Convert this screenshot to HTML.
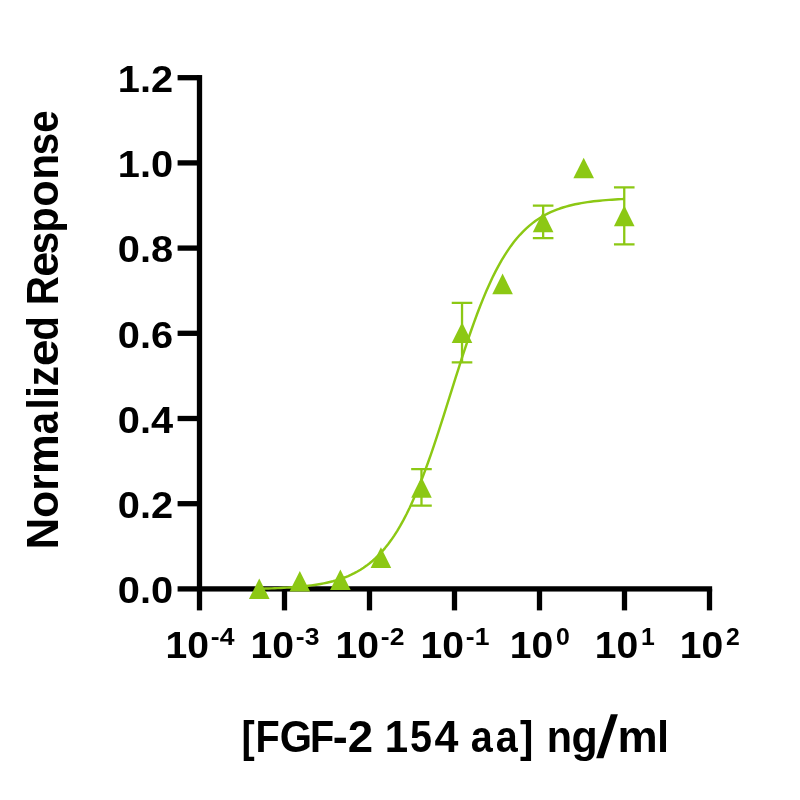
<!DOCTYPE html>
<html><head><meta charset="utf-8"><title>FGF-2 154 aa dose response</title>
<style>
html,body{margin:0;padding:0;background:#fff;}
svg{display:block;will-change:transform;}
text{font-family:"Liberation Sans",sans-serif;font-weight:bold;fill:#000;}
</style></head>
<body>
<svg width="800" height="800" viewBox="0 0 800 800">
<rect width="800" height="800" fill="#fff"/>
<g fill="#000">
<rect x="196.85" y="75.05" width="5.3" height="535.35"/>
<rect x="177.60" y="586.25" width="534.55" height="5.3"/>
<rect x="177.60" y="501.05" width="21.90" height="5.3"/>
<rect x="177.60" y="415.85" width="21.90" height="5.3"/>
<rect x="177.60" y="330.65" width="21.90" height="5.3"/>
<rect x="177.60" y="245.45" width="21.90" height="5.3"/>
<rect x="177.60" y="160.25" width="21.90" height="5.3"/>
<rect x="177.60" y="75.05" width="21.90" height="5.3"/>
<rect x="281.85" y="588.90" width="5.3" height="21.50"/>
<rect x="366.85" y="588.90" width="5.3" height="21.50"/>
<rect x="451.85" y="588.90" width="5.3" height="21.50"/>
<rect x="536.85" y="588.90" width="5.3" height="21.50"/>
<rect x="621.85" y="588.90" width="5.3" height="21.50"/>
<rect x="706.85" y="588.90" width="5.3" height="21.50"/>
</g>
<g font-size="37.3" text-anchor="end">
<text x="173.10" y="603.20" textLength="55.3" lengthAdjust="spacingAndGlyphs">0.0</text>
<text x="173.10" y="518.00" textLength="55.3" lengthAdjust="spacingAndGlyphs">0.2</text>
<text x="173.10" y="432.80" textLength="55.3" lengthAdjust="spacingAndGlyphs">0.4</text>
<text x="173.10" y="347.60" textLength="55.3" lengthAdjust="spacingAndGlyphs">0.6</text>
<text x="173.10" y="262.40" textLength="55.3" lengthAdjust="spacingAndGlyphs">0.8</text>
<text x="173.10" y="177.20" textLength="55.3" lengthAdjust="spacingAndGlyphs">1.0</text>
<text x="173.10" y="92.00" textLength="55.3" lengthAdjust="spacingAndGlyphs">1.2</text>
</g>
<g>
<text x="165.60" y="658.20" font-size="37.3" textLength="43.5" lengthAdjust="spacingAndGlyphs">10</text><text x="210.80" y="645.00" font-size="24.5" textLength="23.6" lengthAdjust="spacingAndGlyphs">-4</text>
<text x="250.60" y="658.20" font-size="37.3" textLength="43.5" lengthAdjust="spacingAndGlyphs">10</text><text x="295.80" y="645.00" font-size="24.5" textLength="23.6" lengthAdjust="spacingAndGlyphs">-3</text>
<text x="335.60" y="658.20" font-size="37.3" textLength="43.5" lengthAdjust="spacingAndGlyphs">10</text><text x="380.80" y="645.00" font-size="24.5" textLength="23.6" lengthAdjust="spacingAndGlyphs">-2</text>
<text x="420.60" y="658.20" font-size="37.3" textLength="43.5" lengthAdjust="spacingAndGlyphs">10</text><text x="465.80" y="645.00" font-size="24.5" textLength="23.6" lengthAdjust="spacingAndGlyphs">-1</text>
<text x="509.80" y="658.20" font-size="37.3" textLength="43.5" lengthAdjust="spacingAndGlyphs">10</text><text x="556.00" y="645.00" font-size="24.5" textLength="13.8" lengthAdjust="spacingAndGlyphs">0</text>
<text x="594.80" y="658.20" font-size="37.3" textLength="43.5" lengthAdjust="spacingAndGlyphs">10</text><text x="641.00" y="645.00" font-size="24.5" textLength="13.8" lengthAdjust="spacingAndGlyphs">1</text>
<text x="679.80" y="658.20" font-size="37.3" textLength="43.5" lengthAdjust="spacingAndGlyphs">10</text><text x="726.00" y="645.00" font-size="24.5" textLength="13.8" lengthAdjust="spacingAndGlyphs">2</text>
</g>
<text transform="translate(58.40,0) rotate(-90)" font-size="44.8" y="0"><tspan x="-549.6" textLength="31.6" lengthAdjust="spacingAndGlyphs">N</tspan><tspan x="-518.0" textLength="27.3" lengthAdjust="spacingAndGlyphs">o</tspan><tspan x="-490.8" textLength="16.4" lengthAdjust="spacingAndGlyphs">r</tspan><tspan x="-473.9" textLength="39.7" lengthAdjust="spacingAndGlyphs">m</tspan><tspan x="-434.5" textLength="22.4" lengthAdjust="spacingAndGlyphs">a</tspan><tspan x="-409.6" textLength="11.2" lengthAdjust="spacingAndGlyphs">l</tspan><tspan x="-397.9" textLength="12.1" lengthAdjust="spacingAndGlyphs">i</tspan><tspan x="-386.2" textLength="20.2" lengthAdjust="spacingAndGlyphs">z</tspan><tspan x="-366.3" textLength="26.9" lengthAdjust="spacingAndGlyphs">e</tspan><tspan x="-340.8" textLength="24.6" lengthAdjust="spacingAndGlyphs">d</tspan> <tspan x="-305.3" textLength="29.1" lengthAdjust="spacingAndGlyphs">R</tspan><tspan x="-276.8" textLength="25.0" lengthAdjust="spacingAndGlyphs">e</tspan><tspan x="-254.2" textLength="22.4" lengthAdjust="spacingAndGlyphs">s</tspan><tspan x="-232.7" textLength="25.5" lengthAdjust="spacingAndGlyphs">p</tspan><tspan x="-206.7" textLength="26.4" lengthAdjust="spacingAndGlyphs">o</tspan><tspan x="-179.8" textLength="25.9" lengthAdjust="spacingAndGlyphs">n</tspan><tspan x="-155.3" textLength="22.4" lengthAdjust="spacingAndGlyphs">s</tspan><tspan x="-132.8" textLength="22.4" lengthAdjust="spacingAndGlyphs">e</tspan></text>
<text font-size="44.0" y="752.00"><tspan x="241.5" textLength="13.2" lengthAdjust="spacingAndGlyphs">[</tspan><tspan x="255.6" textLength="24.2" lengthAdjust="spacingAndGlyphs">F</tspan><tspan x="279.7" textLength="32.3" lengthAdjust="spacingAndGlyphs">G</tspan><tspan x="310.1" textLength="24.2" lengthAdjust="spacingAndGlyphs">F</tspan><tspan x="332.8" textLength="15.0" lengthAdjust="spacingAndGlyphs">-</tspan><tspan x="347.8" textLength="25.4" lengthAdjust="spacingAndGlyphs">2</tspan> <tspan x="384.7" textLength="23.4" lengthAdjust="spacingAndGlyphs">1</tspan><tspan x="409.9" textLength="22.0" lengthAdjust="spacingAndGlyphs">5</tspan><tspan x="434.4" textLength="23.9" lengthAdjust="spacingAndGlyphs">4</tspan> <tspan x="470.8" textLength="22.0" lengthAdjust="spacingAndGlyphs">a</tspan><tspan x="495.7" textLength="22.0" lengthAdjust="spacingAndGlyphs">a</tspan><tspan x="520.1" textLength="13.3" lengthAdjust="spacingAndGlyphs">]</tspan> <tspan x="546.7" textLength="25.3" lengthAdjust="spacingAndGlyphs">n</tspan><tspan x="571.6" textLength="26.2" lengthAdjust="spacingAndGlyphs">g</tspan><tspan x="597.2" font-size="57.2" font-weight="normal" stroke="#000" stroke-width="1.3" dy="5.4" textLength="19.6" lengthAdjust="spacingAndGlyphs">/</tspan><tspan x="617.6" dy="-5.4" textLength="40.2" lengthAdjust="spacingAndGlyphs">m</tspan><tspan x="656.9" textLength="12.1" lengthAdjust="spacingAndGlyphs">l</tspan></text>
<g stroke="#8cc814" stroke-width="2.3" fill="none">
<path d="M421.48 469.18V505.58M411.18 469.18H431.78M411.18 505.58H431.78"/>
<path d="M462.03 302.82V362.42M451.73 302.82H472.33M451.73 362.42H472.33"/>
<path d="M543.14 205.70V238.10M532.84 205.70H553.44M532.84 238.10H553.44"/>
<path d="M624.25 187.39V244.39M613.95 187.39H634.55M613.95 244.39H634.55"/>
</g>
<path d="M259.25 588.77 L262.32 588.68 L265.39 588.59 L268.46 588.50 L271.52 588.39 L274.59 588.27 L277.66 588.13 L280.73 587.99 L283.79 587.82 L286.86 587.65 L289.93 587.45 L292.99 587.23 L296.06 586.99 L299.13 586.72 L302.20 586.43 L305.26 586.11 L308.33 585.75 L311.40 585.36 L314.46 584.92 L317.53 584.45 L320.60 583.92 L323.67 583.34 L326.73 582.70 L329.80 581.99 L332.87 581.22 L335.93 580.37 L339.00 579.43 L342.07 578.40 L345.14 577.27 L348.20 576.02 L351.27 574.66 L354.34 573.16 L357.40 571.52 L360.47 569.73 L363.54 567.77 L366.61 565.62 L369.67 563.28 L372.74 560.73 L375.81 557.95 L378.88 554.93 L381.94 551.65 L385.01 548.09 L388.08 544.24 L391.14 540.09 L394.21 535.62 L397.28 530.81 L400.35 525.65 L403.41 520.13 L406.48 514.25 L409.55 507.99 L412.61 501.36 L415.68 494.35 L418.75 486.98 L421.82 479.25 L424.88 471.17 L427.95 462.77 L431.02 454.06 L434.08 445.09 L437.15 435.87 L440.22 426.46 L443.29 416.88 L446.35 407.20 L449.42 397.44 L452.49 387.67 L455.55 377.92 L458.62 368.26 L461.69 358.71 L464.76 349.34 L467.82 340.17 L470.89 331.25 L473.96 322.60 L477.03 314.27 L480.09 306.26 L483.16 298.60 L486.23 291.30 L489.29 284.38 L492.36 277.82 L495.43 271.65 L498.50 265.84 L501.56 260.40 L504.63 255.32 L507.70 250.58 L510.76 246.17 L513.83 242.08 L516.90 238.30 L519.97 234.80 L523.03 231.58 L526.10 228.61 L529.17 225.88 L532.23 223.37 L535.30 221.07 L538.37 218.96 L541.44 217.04 L544.50 215.28 L547.57 213.67 L550.64 212.20 L553.70 210.86 L556.77 209.64 L559.84 208.53 L562.91 207.52 L565.97 206.60 L569.04 205.77 L572.11 205.01 L575.18 204.32 L578.24 203.69 L581.31 203.12 L584.38 202.61 L587.44 202.14 L590.51 201.72 L593.58 201.33 L596.65 200.98 L599.71 200.66 L602.78 200.38 L605.85 200.12 L608.91 199.88 L611.98 199.67 L615.05 199.47 L618.12 199.30 L621.18 199.14 L624.25 199.00" fill="none" stroke="#8cc814" stroke-width="2.45" stroke-linejoin="round"/>
<g fill="#8cc814">
<path d="M259.25 578.39L269.56 598.99H248.95Z"/>
<path d="M299.81 570.93L310.11 591.53H289.51Z"/>
<path d="M340.37 569.40L350.67 590.00H330.06Z"/>
<path d="M380.92 547.29L391.22 567.89H370.62Z"/>
<path d="M421.48 477.08L431.78 497.68H411.18Z"/>
<path d="M462.03 322.32L472.33 342.92H451.73Z"/>
<path d="M502.59 273.58L512.88 294.18H492.29Z"/>
<path d="M543.14 211.60L553.44 232.20H532.84Z"/>
<path d="M583.70 157.71L594.00 178.31H573.40Z"/>
<path d="M624.25 205.59L634.55 226.19H613.95Z"/>
</g>
</svg>
</body></html>
